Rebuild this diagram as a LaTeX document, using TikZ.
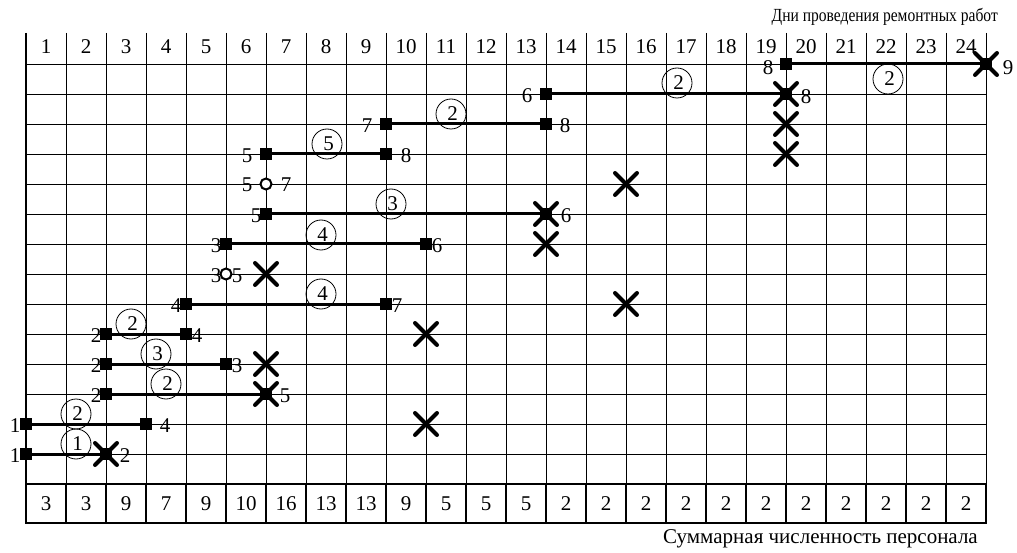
\documentclass[tikz,border=0pt]{standalone}
\usepackage{fontspec}
\setmainfont{Liberation Serif}
\usetikzlibrary{shapes.misc}
\begin{document}
\begin{tikzpicture}[x=1pt,y=-1pt,
  gridline/.style={line width=0.9pt},
  thickline/.style={line width=2.4pt},
  bar/.style={line width=3pt},
  sq/.style={rectangle,fill=black,minimum size=12pt,inner sep=0pt},
  oc/.style={circle,draw,line width=2pt,fill=white,minimum size=11pt,inner sep=0pt},
  xm/.style={cross out,draw,line width=4pt,line cap=round,minimum size=18pt,inner sep=0pt},
  cnum/.style={circle,draw,line width=0.8pt,minimum size=30pt,inner sep=0pt,font=\fontsize{21}{24}\selectfont},
  lbl/.style={inner sep=0pt,font=\fontsize{21}{24}\selectfont},
  ttl/.style={inner sep=0pt,font=\fontsize{18.5}{22}\selectfont}]
\useasboundingbox (0,0) rectangle (1017,553);
% grid
\foreach \k in {1,...,24} \draw[gridline] ({26+40*\k},33) -- ({26+40*\k},484);
\foreach \r in {1,...,14} \draw[gridline] (26,{34+30*\r}) -- (986,{34+30*\r});
\draw[thickline] (26,33) -- (26,523);
\draw[thickline] (26,484) rectangle (986,523);
\foreach \k in {1,...,23} \draw[thickline] ({26+40*\k},484) -- ({26+40*\k},523);
% header and totals
\foreach \k in {1,...,24} \node[lbl] (h\k) at ({6+40*\k},47) {\k};
\foreach \v [count=\k] in {3,3,9,7,9,10,16,13,13,9,5,5,5,2,2,2,2,2,2,2,2,2,2,2}
  \node[lbl] (b\k) at ({6+40*\k},504) {\v};
\node[ttl,anchor=east] (title) at (998,17) {\scalebox{0.84}[1]{Дни проведения ремонтных работ}};
\node[ttl,anchor=east,font=\fontsize{21}{24}\selectfont] (foot) at (978,539) {Суммарная численность персонала};
% row A
\node[sq] (a1) at (786,64) {}; \node[sq] (a2) at (986,64) {};
\draw[bar] (a1.center) -- (a2.center);
\node[xm] (ax) at (986,64) {};
\node[lbl] (al1) at (768,68) {8}; \node[lbl] (al2) at (1008,68) {9};
\node[cnum] (ac) at (888,79) {\hspace{3pt}2};
% row B
\node[sq] (b1) at (546,94) {}; \node[sq] (b2) at (786,94) {};
\draw[bar] (b1.center) -- (b2.center);
\node[xm] (bx) at (786,94) {};
\node[lbl] (bl1) at (527,96) {6}; \node[lbl] (bl2) at (806,97) {8};
\node[cnum] (bc) at (677,83) {\hspace{3pt}2};
% row C
\node[sq] (c1) at (386,124) {}; \node[sq] (c2) at (546,124) {};
\draw[bar] (c1.center) -- (c2.center);
\node[lbl] (cl1) at (367,126) {7}; \node[lbl] (cl2) at (565,126) {8};
\node[cnum] (cc) at (451,114) {\hspace{3pt}2};
\node[xm] (cx) at (786,124) {};
% row D
\node[sq] (d1) at (266,154) {}; \node[sq] (d2) at (386,154) {};
\draw[bar] (d1.center) -- (d2.center);
\node[lbl] (dl1) at (247,156) {5}; \node[lbl] (dl2) at (406,156) {8};
\node[cnum] (dc) at (327,144) {\hspace{3pt}5};
\node[xm] (dx) at (786,154) {};
% row E
\node[oc] (e1) at (266,184) {};
\node[lbl] (el1) at (247,185) {5}; \node[lbl] (el2) at (286,185) {7};
\node[xm] (ex) at (626,184) {};
% row F
\node[sq] (f1) at (266,214) {}; \node[sq] (f2) at (546,214) {};
\draw[bar] (f1.center) -- (f2.center);
\node[xm] (fx) at (546,214) {};
\node[lbl] (fl1) at (256,216) {5}; \node[lbl] (fl2) at (566,216) {6};
\node[cnum] (fc) at (391,204) {\hspace{3pt}3};
% row G
\node[sq] (g1) at (226,244) {}; \node[sq] (g2) at (426,244) {};
\draw[bar] (g1.center) -- (g2.center);
\node[lbl] (gl1) at (216,246) {3}; \node[lbl] (gl2) at (437,246) {6};
\node[cnum] (gc) at (321,235) {\hspace{3pt}4};
\node[xm] (gx) at (546,244) {};
% row H
\node[oc] (h1) at (226,274) {};
\node[lbl] (hl1) at (216,276) {3}; \node[lbl] (hl2) at (237,276) {5};
\node[xm] (hx) at (266,274) {};
% row I
\node[sq] (i1) at (186,304) {}; \node[sq] (i2) at (386,304) {};
\draw[bar] (i1.center) -- (i2.center);
\node[lbl] (il1) at (176,306) {4}; \node[lbl] (il2) at (397,306) {7};
\node[cnum] (ic) at (321,294) {\hspace{3pt}4};
\node[xm] (ix) at (626,304) {};
% row J
\node[sq] (j1) at (106,334) {}; \node[sq] (j2) at (186,334) {};
\draw[bar] (j1.center) -- (j2.center);
\node[lbl] (jl1) at (96,336) {2}; \node[lbl] (jl2) at (197,336) {4};
\node[cnum] (jc) at (131,324) {\hspace{3pt}2};
\node[xm] (jx) at (426,334) {};
% row K
\node[sq] (k1) at (106,364) {}; \node[sq] (k2) at (226,364) {};
\draw[bar] (k1.center) -- (k2.center);
\node[lbl] (kl1) at (96,366) {2}; \node[lbl] (kl2) at (237,366) {3};
\node[cnum] (kc) at (156,354) {\hspace{3pt}3};
\node[xm] (kx) at (266,364) {};
% row L
\node[sq] (l1) at (106,394) {}; \node[sq] (l2) at (266,394) {};
\draw[bar] (l1.center) -- (l2.center);
\node[xm] (lx) at (266,394) {};
\node[lbl] (ll1) at (96,396) {2}; \node[lbl] (ll2) at (285,396) {5};
\node[cnum] (lc) at (166,384) {\hspace{3pt}2};
% row M
\node[sq] (m1) at (26,424) {}; \node[sq] (m2) at (146,424) {};
\draw[bar] (m1.center) -- (m2.center);
\node[lbl] (ml1) at (15,426) {1}; \node[lbl] (ml2) at (165,426) {4};
\node[cnum] (mc) at (76,414) {\hspace{3pt}2};
\node[xm] (mx) at (426,424) {};
% row N
\node[sq] (n1) at (26,454) {}; \node[sq] (n2) at (106,454) {};
\draw[bar] (n1.center) -- (n2.center);
\node[xm] (nx) at (106,454) {};
\node[lbl] (nl1) at (15,456) {1}; \node[lbl] (nl2) at (125,456) {2};
\node[cnum] (nc) at (76,444) {\hspace{3pt}1};
\end{tikzpicture}
\end{document}
